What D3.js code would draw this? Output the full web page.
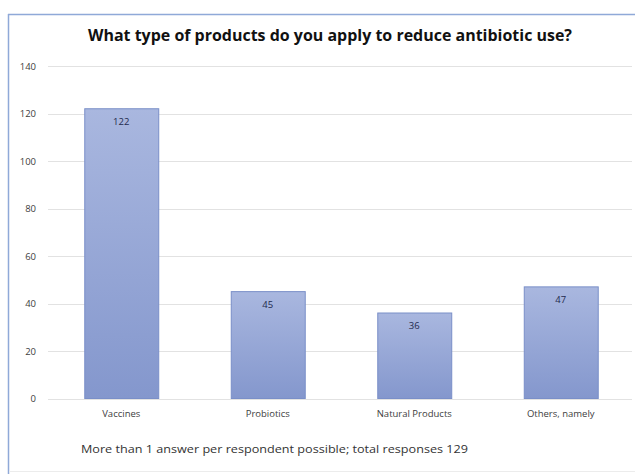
<!DOCTYPE html>
<html>
<head>
<meta charset="utf-8">
<script src="https://cdn.jsdelivr.net/npm/d3@7"></script>
<style>
  html, body { margin: 0; padding: 0; background: #fff; overflow: hidden; }
  svg { display: block; }
  text { font-family: "Open Sans", "Noto Sans", sans-serif; }
</style>
</head>
<body>
<svg id="chart" width="635" height="474"></svg>
<script>
const categories = ["Vaccines", "Probiotics", "Natural Products", "Others, namely"];
const values = [122, 45, 36, 47];
const yTicks = [0, 20, 40, 60, 80, 100, 120, 140];
const titleText = "What type of products do you apply to reduce antibiotic use?";
const footnoteText = "More than 1 answer per respondent possible; total responses 129";

const svg = d3.select("#chart");

// frame: blue top and left edges, faint bottom edge
svg.append("line")
  .attr("x1", 8).attr("x2", 635).attr("y1", 14.5).attr("y2", 14.5)
  .attr("stroke", "#8fa9d8").attr("stroke-width", 1.5);
svg.append("line")
  .attr("x1", 8.5).attr("x2", 8.5).attr("y1", 14).attr("y2", 474)
  .attr("stroke", "#8fa9d8").attr("stroke-width", 1.5);
svg.append("line")
  .attr("x1", 9).attr("x2", 635).attr("y1", 471.5).attr("y2", 471.5)
  .attr("stroke", "#ececec").attr("stroke-width", 1);

const defs = svg.append("defs");
const grad = defs.append("linearGradient")
  .attr("id", "barGrad").attr("x1", 0).attr("y1", 0).attr("x2", 0).attr("y2", 1);
grad.append("stop").attr("offset", "0%").attr("stop-color", "#a9b7df");
grad.append("stop").attr("offset", "100%").attr("stop-color", "#8497cd");

const x = d3.scaleBand()
  .domain(categories)
  .range([48, 634])
  .paddingInner(0.495)
  .paddingOuter(0.2475);

const y = d3.scaleLinear()
  .domain([0, 140])
  .range([398.5, 66]);

// gridlines
svg.append("g")
  .selectAll("line")
  .data(yTicks)
  .join("line")
  .attr("x1", 48).attr("x2", 632)
  .attr("y1", d => Math.round(y(d)) + 0.5)
  .attr("y2", d => Math.round(y(d)) + 0.5)
  .attr("stroke", "#e2e2e2")
  .attr("stroke-width", 1);

// y axis labels
const yAxis = d3.axisLeft(y).tickValues(yTicks).tickSize(0).tickPadding(0);
const gy = svg.append("g").attr("transform", "translate(36,0)").call(yAxis);
gy.select(".domain").remove();
gy.selectAll("text")
  .attr("fill", "#404040")
  .style("font-size", "9.5px");

// bars
svg.append("g")
  .selectAll("rect")
  .data(values)
  .join("rect")
  .attr("x", (d, i) => x(categories[i]) + 0.5)
  .attr("y", d => y(d))
  .attr("width", x.bandwidth())
  .attr("height", d => y(0) - y(d))
  .attr("fill", "url(#barGrad)")
  .attr("stroke", "#7a8fc8")
  .attr("stroke-width", 1);

// value labels
svg.append("g")
  .selectAll("text")
  .data(values)
  .join("text")
  .attr("x", (d, i) => x(categories[i]) + x.bandwidth() / 2)
  .attr("y", d => y(d) + 16)
  .attr("text-anchor", "middle")
  .attr("fill", "#1f2a4d")
  .style("font-size", "9.5px")
  .text(d => d);

// x axis labels
const xAxis = d3.axisBottom(x).tickSize(0).tickPadding(0);
const gx = svg.append("g").attr("transform", "translate(0,408)").call(xAxis);
gx.select(".domain").remove();
gx.selectAll("text")
  .attr("fill", "#404040")
  .style("font-size", "9.5px")
  .attr("dy", "0.9em");

// title
svg.append("text")
  .attr("x", 330).attr("y", 41)
  .attr("text-anchor", "middle")
  .attr("fill", "#111")
  .style("font-size", "16px")
  .style("font-weight", "bold")
  .attr("textLength", 484)
  .attr("lengthAdjust", "spacingAndGlyphs")
  .text(titleText);

// footnote
svg.append("text")
  .attr("x", 81).attr("y", 453)
  .attr("fill", "#333")
  .style("font-size", "11.5px")
  .attr("textLength", 387)
  .attr("lengthAdjust", "spacingAndGlyphs")
  .text(footnoteText);
</script>
</body>
</html>
